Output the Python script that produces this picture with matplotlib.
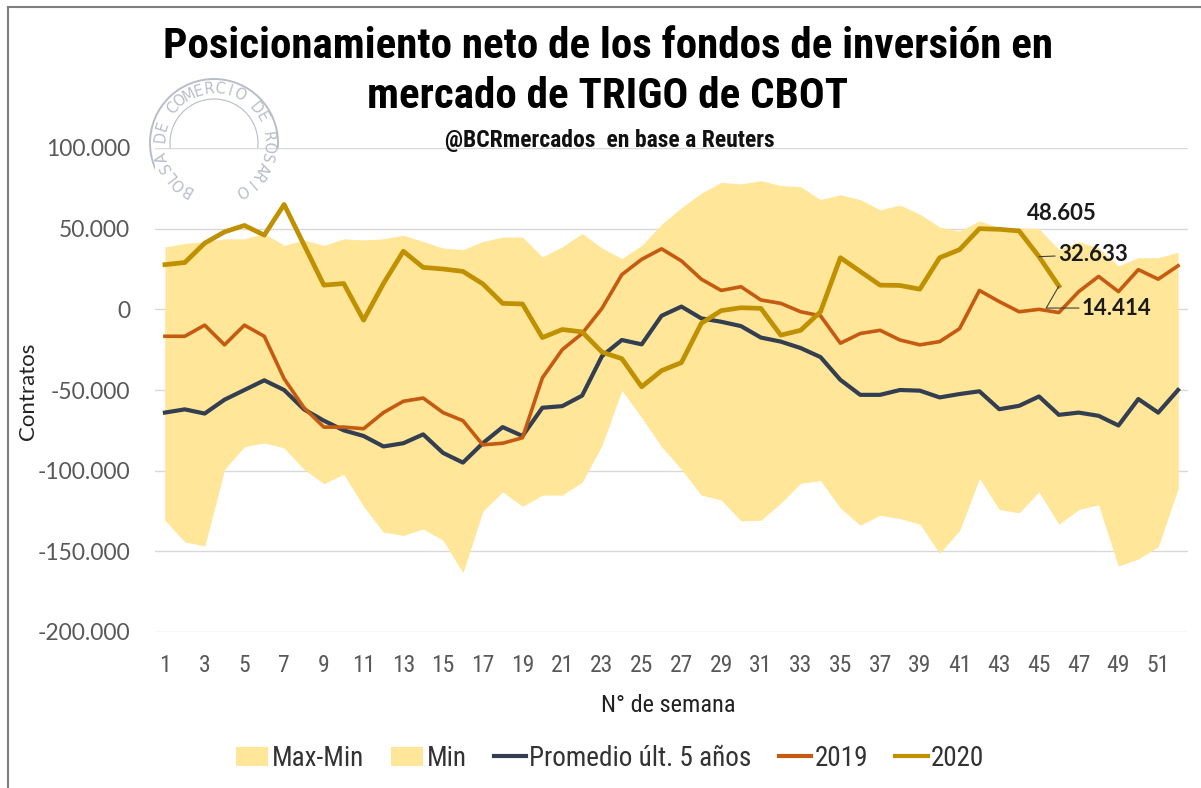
import os
import numpy as np
import matplotlib
matplotlib.use("Agg")
import matplotlib.pyplot as plt
from matplotlib import font_manager as fm
from matplotlib.patches import Ellipse, Patch
from matplotlib.lines import Line2D

# ---------------- data ----------------
weeks = list(range(1, 53))
max_vals = [38700, 40800, 42000, 43700, 43700, 47000, 39600, 43000, 39600, 43700,
            43000, 43700, 46000, 42000, 38000, 37000, 42000, 44800, 44800, 32500,
            38700, 47000, 38000, 31500, 39600, 52700, 63000, 72000, 78700, 77700,
            79800, 76700, 76000, 68000, 71000, 68000, 61700, 64600, 59000, 51000,
            48500, 54800, 50600, 50600, 50000, 37000, 42000, 38000, 27000, 32000,
            32000, 35400]
min_vals = [-130600, -144000, -146600, -99000, -85000, -82700, -85800, -99000, -108000, -102000,
            -122000, -138000, -140000, -136000, -143000, -163000, -125000, -113000, -122000, -115000,
            -115000, -107000, -84000, -50000, -67000, -85000, -99000, -115000, -118000, -131000,
            -130600, -120000, -107700, -106000, -123000, -133700, -127500, -129600, -133000, -151000,
            -137000, -104600, -124000, -126000, -113000, -133000, -124000, -121000, -159000, -154600,
            -147000, -110800]
promedio = [-64000, -62000, -64600, -56000, -50000, -44000, -50000, -62000, -69000, -75000,
            -78500, -85000, -83000, -77500, -89000, -95000, -83000, -73000, -78500, -61000,
            -60000, -53500, -29000, -19000, -21700, -4000, 1700, -5600, -7700, -10400,
            -17500, -20000, -24000, -29600, -43700, -53000, -53000, -50000, -50400, -54600,
            -52500, -50800, -61900, -59800, -54000, -65400, -64000, -66000, -72000, -55600,
            -64000, -50000]
y2019 = [-16700, -16700, -9800, -22000, -9800, -16700, -43000, -61000, -73000, -73000,
         -74000, -64000, -57000, -55000, -64000, -69000, -84000, -83000, -79600, -42500,
         -25000, -15000, 600, 21500, 31000, 37500, 30000, 18700, 11700, 14000,
         5800, 3700, -1500, -4000, -21000, -15000, -13000, -19000, -22000, -20000,
         -12000, 11700, 4800, -1500, 0, -2000, 11000, 20400, 11000, 24600,
         18700, 27000]
y2020 = [27700, 29000, 41000, 48000, 52000, 46000, 65000, 40000, 15000, 16000,
         -6700, 16000, 36000, 26000, 25000, 23500, 15800, 3700, 3300, -17500,
         -12500, -14000, -26500, -30600, -48000, -38000, -33000, -8700, -800, 1000,
         600, -16000, -13000, -1500, 32000, 23500, 15000, 14800, 12500, 32000,
         37000, 50000, 49600, 48605, 32633, 14414]
y_ticks = [-200000, -150000, -100000, -50000, 0, 50000, 100000]
x_ticks = list(range(1, 53, 2))

# ---------------- fonts ----------------
all_fonts = fm.fontManager.ttflist

def find_file(keys):
    for k in keys:
        for f in all_fonts:
            if os.path.basename(f.fname).lower() == k.lower():
                return f.fname
    return None

bold_narrow = find_file(['RobotoCondensed-Bold.ttf', 'LiberationSansNarrow-Bold.ttf',
                         'ArchivoNarrow-Bold.ttf', 'BarlowCondensed-Bold.ttf',
                         'AsapCondensed-Bold.ttf'])
reg_narrow = find_file(['RobotoCondensed-Regular.ttf', 'LiberationSansNarrow-Regular.ttf',
                        'ArchivoNarrow-Regular.ttf', 'BarlowCondensed-Regular.ttf',
                        'AsapCondensed-Regular.ttf'])
if reg_narrow is None:
    for f in all_fonts:
        fn = os.path.basename(f.fname)
        if fn.lower().startswith('robotocondensed') and 'italic' not in fn.lower():
            reg_narrow = f.fname
            break

def fp(bold, size):
    path = bold_narrow if bold else reg_narrow
    if path:
        return fm.FontProperties(fname=path, size=size)
    return fm.FontProperties(family='DejaVu Sans', weight='bold' if bold else 'normal',
                             size=size * 0.85)

names = {f.name for f in all_fonts}
body = 'Lato' if 'Lato' in names else 'DejaVu Sans'

fill_c = '#FFE699'
c2019 = '#C55A11'
c2020 = '#BF9000'
cprom = '#333F50'
tick_c = '#595959'

fig = plt.figure(figsize=(12.01, 7.88), dpi=100)
ax = fig.add_axes([155/1201, 1-632/788, (1188-155)/1201, (632-148)/788])

w = np.array(weeks)
mn = np.array(min_vals)
mx = np.array(max_vals)
ax.fill_between(w, 0, mn, color=fill_c, lw=0, zorder=1)
ax.fill_between(w, mn, mx, color=fill_c, lw=0, zorder=1)
ax.plot(w, promedio, color=cprom, lw=3.0, zorder=3, solid_joinstyle='round')
ax.plot(w, y2019, color=c2019, lw=2.6, zorder=4, solid_joinstyle='round')
ax.plot(w[:len(y2020)], y2020, color=c2020, lw=3.4, zorder=5, solid_joinstyle='round')

ax.set_xlim(0.5, 52.5)
ax.set_ylim(-200000, 100000)
ax.set_yticks(y_ticks)
ax.set_yticklabels([f"{v:,}".replace(",", ".") for v in y_ticks])
ax.set_xticks(x_ticks)
ax.set_xticklabels([str(t) for t in x_ticks])
ax.grid(axis='y', color='#D9D9D9', lw=1.0, zorder=0)
ax.set_axisbelow(True)
for s in ax.spines.values():
    s.set_visible(False)
ax.tick_params(axis='both', length=0, colors=tick_c)
ax.tick_params(axis='y', pad=18, labelsize=16.5)
ax.tick_params(axis='x', pad=16)
for lab in ax.get_yticklabels():
    lab.set_fontfamily(body)
for lab in ax.get_xticklabels():
    lab.set_fontproperties(fp(False, 17))

ax.set_ylabel('Contratos', fontsize=16, family=body, color='#222222')
ax.yaxis.set_label_coords((38 - 155) / 1033, (632 - 391) / 484)
ax.set_xlabel('N° de semana', fontproperties=fp(False, 17.5), color='#222222')
ax.xaxis.set_label_coords((668 - 155) / 1033, (632 - 694) / 484)

# data labels for 2020
lab_kw = dict(fontsize=16, fontweight='bold', family=body, color='#1a1a1a', zorder=6)
ax.text(46.17, 59200, '48.605', ha='center', va='center', **lab_kw)
ax.annotate('32.633', xy=(45, 32633), xytext=(45.95, 34000), ha='left', va='center',
            arrowprops=dict(arrowstyle='-', color='#404040', lw=0.8, shrinkA=0, shrinkB=0),
            **lab_kw)
ax.annotate('14.414', xy=(46, 14414), xytext=(47.15, 800), ha='left', va='center',
            arrowprops=dict(arrowstyle='-', color='#404040', lw=0.8, shrinkA=0, shrinkB=0,
                            connectionstyle='angle,angleA=0,angleB=60,rad=0'),
            **lab_kw)

# title
fig.text(608/1201, 1-47/788, 'Posicionamiento neto de los fondos de inversión en',
         ha='center', va='center', fontproperties=fp(True, 31), color='black')
fig.text(608/1201, 1-97/788, 'mercado de TRIGO de CBOT',
         ha='center', va='center', fontproperties=fp(True, 31), color='black')
fig.text(610/1201, 1-140/788, '@BCRmercados  en base a Reuters',
         ha='center', va='center', fontproperties=fp(True, 17), color='#111111')

# logo watermark
cx, cy, r = 214, 143, 64
logo_c = '#B9BDC9'
fig.add_artist(Ellipse((cx/1201, 1-cy/788), 2*r/1201, 2*r/788, transform=fig.transFigure,
                       fill=False, ec=logo_c, lw=1.4, zorder=0))
fig.add_artist(Ellipse((cx/1201, 1-cy/788), 2*44/1201, 2*44/788, transform=fig.transFigure,
                       fill=False, ec=logo_c, lw=0.8, zorder=0))
txt = 'BOLSA DE COMERCIO DE ROSARIO'
angles = np.linspace(240, -60, len(txt))
rr = 54
for ch, a in zip(txt, angles):
    xa = cx + rr*np.cos(np.radians(a))
    ya = cy - rr*np.sin(np.radians(a))
    fig.text(xa/1201, 1-ya/788, ch, ha='center', va='center', fontsize=10.5,
             rotation=a-90, color=logo_c, family='DejaVu Sans')

# legend
handles = [Patch(facecolor=fill_c, edgecolor='none'),
           Patch(facecolor=fill_c, edgecolor='none'),
           Line2D([], [], color=cprom, lw=3),
           Line2D([], [], color=c2019, lw=3),
           Line2D([], [], color=c2020, lw=3)]
labels = ['Max-Min', 'Min', 'Promedio últ. 5 años', '2019', '2020']
leg = fig.legend(handles, labels, loc='center', bbox_to_anchor=(610/1201, 1-758/788),
                 ncol=5, frameon=False, prop=fp(False, 19.5),
                 handlelength=1.2, handletextpad=0.12, columnspacing=1.0,
                 labelcolor='#333333')

# outer border (top/left)
fig.add_artist(Line2D([8/1201, 1], [1-7/788, 1-7/788], transform=fig.transFigure, color='#7F7F7F', lw=1.5))
fig.add_artist(Line2D([8/1201, 8/1201], [0, 1-7/788], transform=fig.transFigure, color='#7F7F7F', lw=1.5))

fig.savefig('out.png', dpi=100)
